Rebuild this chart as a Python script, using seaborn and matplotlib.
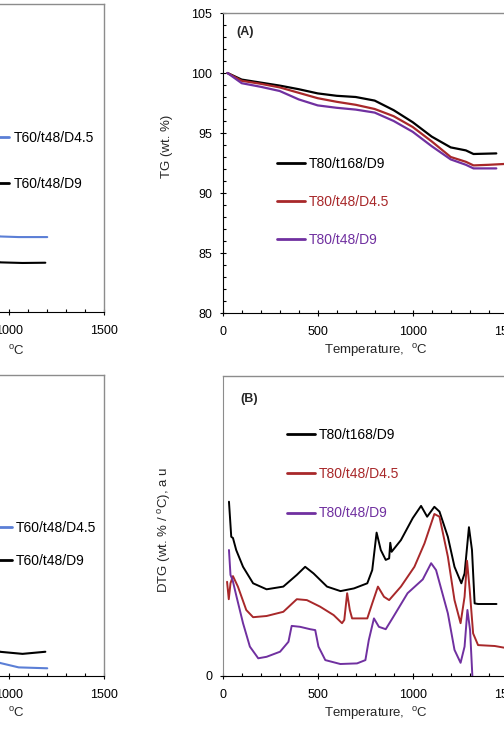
import matplotlib
matplotlib.use("Agg")
import matplotlib.pyplot as plt
from matplotlib.ticker import MultipleLocator, NullLocator
import pandas as pd
import seaborn as sns

# ---------------- panel (A): TG, wt. % ----------------
tg_labels = ["T80/t168/D9", "T80/t48/D4.5", "T80/t48/D9"]
tg_temp_1 = [25, 100, 200, 300, 400, 500, 600, 700, 800, 900, 1000, 1100, 1200, 1280, 1320, 1440]
tg_val_1 = [100.0, 99.45, 99.2, 98.95, 98.65, 98.3, 98.1, 98.0, 97.7, 96.9, 95.9, 94.7, 93.8, 93.55, 93.25, 93.3]
tg_temp_2 = [25, 100, 200, 300, 400, 500, 600, 700, 800, 900, 1000, 1100, 1200, 1280, 1320, 1400, 1520]
tg_val_2 = [100.0, 99.35, 99.1, 98.8, 98.35, 97.9, 97.6, 97.35, 97.0, 96.4, 95.5, 94.3, 93.0, 92.6, 92.3, 92.35, 92.45]
tg_temp_3 = [25, 100, 200, 300, 400, 500, 600, 700, 800, 900, 1000, 1100, 1200, 1280, 1320, 1440]
tg_val_3 = [100.0, 99.15, 98.85, 98.5, 97.8, 97.3, 97.1, 96.95, 96.7, 96.0, 95.1, 93.9, 92.8, 92.35, 92.05, 92.05]

# ---------------- panel (B): DTG, arbitrary units ----------------
dtg_temp_1 = [33, 45, 54, 71, 107, 160, 231, 319, 390, 434, 478, 549, 620, 691, 761, 787, 810, 832,
              858, 876, 882, 889, 938, 1000, 1044, 1076, 1114, 1141, 1185, 1220, 1256, 1273, 1296,
              1312, 1326, 1344, 1441]
dtg_val_1 = [5.81, 4.64, 4.6, 4.2, 3.64, 3.09, 2.89, 2.98, 3.37, 3.64, 3.42, 2.98, 2.83, 2.92, 3.09,
             3.53, 4.78, 4.2, 3.87, 3.92, 4.44, 4.14, 4.53, 5.26, 5.67, 5.31, 5.64, 5.48, 4.64, 3.64,
             3.09, 3.42, 4.96, 4.2, 2.42, 2.4, 2.4]
dtg_temp_2 = [23, 32, 41, 54, 80, 124, 160, 231, 319, 390, 443, 513, 584, 628, 640, 655, 669, 681,
              761, 787, 817, 849, 876, 938, 1009, 1062, 1114, 1141, 1185, 1220, 1252, 1273, 1286,
              1300, 1318, 1344, 1432, 1520]
dtg_val_2 = [3.14, 2.56, 3.09, 3.33, 2.98, 2.2, 1.96, 2.0, 2.14, 2.56, 2.53, 2.31, 2.03, 1.76, 1.87,
             2.76, 2.2, 1.92, 1.92, 2.42, 2.98, 2.64, 2.53, 2.98, 3.64, 4.42, 5.4, 5.31, 3.98, 2.53,
             1.76, 2.64, 3.84, 2.87, 1.42, 1.03, 1.0, 0.9]
dtg_temp_3 = [33, 41, 52, 73, 107, 143, 187, 231, 302, 346, 363, 407, 460, 487, 504, 540, 619, 707,
              751, 769, 796, 822, 858, 893, 973, 1053, 1097, 1123, 1185, 1220, 1252, 1273, 1288,
              1302, 1314, 1320]
dtg_val_3 = [4.2, 3.37, 3.2, 2.64, 1.76, 0.98, 0.59, 0.64, 0.81, 1.14, 1.67, 1.64, 1.56, 1.53, 0.98,
             0.53, 0.4, 0.42, 0.53, 1.2, 1.92, 1.64, 1.56, 1.92, 2.76, 3.22, 3.76, 3.53, 2.09, 0.87,
             0.44, 0.98, 2.2, 1.53, 0.0, -0.4]

# ---------------- left panels (T60 series, mostly cropped) ----------------
left_labels = ["T60/t48/D4.5", "T60/t48/D9"]
tl_temp = [25, 200, 400, 600, 800, 950, 1050, 1200]
tl_blue = [100.0, 97.5, 94.2, 91.0, 88.3, 86.15, 86.1, 86.1]
tl_temp_k = [25, 200, 400, 600, 800, 950, 1070, 1190]
tl_black = [100.0, 96.8, 92.8, 89.4, 86.5, 84.05, 84.0, 84.02]
bl_temp = [25, 200, 400, 600, 800, 950, 1050, 1200]
bl_blue = [2.5, 1.2, 1.5, 1.0, 1.4, 0.42, 0.27, 0.24]
bl_temp_k = [25, 200, 400, 600, 800, 950, 1070, 1190]
bl_black = [3.0, 1.6, 1.9, 1.4, 1.8, 0.79, 0.72, 0.79]

BLACK = "#000000"
RED = "#A8282A"
PURPLE = "#7030A0"
BLUE = "#5B7FD6"
GRAY = "#8C8C8C"

sns.set_style("ticks")
plt.rcParams["font.family"] = ["Liberation Sans", "DejaVu Sans"]
plt.rcParams["mathtext.fontset"] = "custom"
plt.rcParams["mathtext.rm"] = "Liberation Sans"

W, H = 504, 730
fig = plt.figure(figsize=(W / 100, H / 100), dpi=100)


def px_axes(left, top, right, bottom):
    return fig.add_axes([left / W, 1 - bottom / H, (right - left) / W, (bottom - top) / H])


def draw(ax, series, lw):
    for temp, vals, col, lab in series:
        df = pd.DataFrame({"T": temp, "v": vals})
        sns.lineplot(data=df, x="T", y="v", color=col, lw=lw, label=lab, ax=ax, sort=False)


def style(ax, ylim, ymajor, yminor, left_black=True):
    ax.set_xlim(0, 1500)
    ax.set_ylim(*ylim)
    ax.xaxis.set_major_locator(MultipleLocator(500))
    ax.xaxis.set_minor_locator(MultipleLocator(100))
    if ymajor:
        ax.yaxis.set_major_locator(MultipleLocator(ymajor))
    else:
        ax.set_yticks([0])
    if yminor:
        ax.yaxis.set_minor_locator(MultipleLocator(yminor))
    else:
        ax.yaxis.set_minor_locator(NullLocator())
    ax.tick_params(which="major", direction="inout", length=5, width=0.8, colors="black",
                   labelsize=9, pad=7)
    ax.tick_params(axis="y", which="major", pad=5)
    ax.tick_params(which="minor", direction="in", length=2.5, width=0.8, colors="black")
    for s in ["top", "right"]:
        ax.spines[s].set_color(GRAY)
        ax.spines[s].set_linewidth(1.0)
    ax.spines["bottom"].set_color("black")
    ax.spines["left"].set_color("black" if left_black else GRAY)
    ax.set_xlabel(r"Temperature,  $^{\mathrm{o}}$C", fontsize=9.5)
    ax.xaxis.set_label_coords(0.538, -0.098)


def legend(ax, x, y, spacing, colored):
    lg = ax.legend(loc="upper left", bbox_to_anchor=(x, y), frameon=False, fontsize=10,
                   handlelength=2.0, handletextpad=0.3, labelspacing=spacing,
                   borderpad=0, borderaxespad=0,
                   labelcolor="linecolor" if colored else "black")
    for h in lg.get_lines():
        h.set_linewidth(2.0)


# top-left (cropped)
ax_tl = px_axes(-181, 4, 104.3, 312.3)
draw(ax_tl, [(tl_temp, tl_blue, BLUE, left_labels[0]), (tl_temp_k, tl_black, BLACK, left_labels[1])], 1.5)
style(ax_tl, (80, 105), 5, 1)
ax_tl.yaxis.set_minor_locator(NullLocator())
ax_tl.set_ylabel("")
legend(ax_tl, 0.57, 0.587, 2.28, False)

# bottom-left (cropped)
ax_bl = px_axes(-181, 375, 104.3, 675.5)
draw(ax_bl, [(bl_temp, bl_blue, BLUE, left_labels[0]), (bl_temp_k, bl_black, BLACK, left_labels[1])], 1.5)
style(ax_bl, (0, 10), None, None)
ax_bl.set_ylabel("")
legend(ax_bl, 0.578, 0.515, 1.38, False)

# (A) TG
ax_a = px_axes(222.7, 13, 507.7, 313)
draw(ax_a, [(tg_temp_1, tg_val_1, BLACK, tg_labels[0]), (tg_temp_2, tg_val_2, RED, tg_labels[1]),
            (tg_temp_3, tg_val_3, PURPLE, tg_labels[2])], 1.6)
style(ax_a, (80, 105), 5, 1)
ax_a.set_ylabel("TG (wt. %)", fontsize=9.5)
ax_a.yaxis.set_label_coords(-0.175, 0.557)
ax_a.text(0.047, 0.937, "(A)", transform=ax_a.transAxes, fontsize=9, fontweight="bold",
          ha="left", va="center")
legend(ax_a, 0.19, 0.52, 1.73, True)

# (B) DTG
ax_b = px_axes(222.7, 376, 507.7, 676)
draw(ax_b, [(dtg_temp_1, dtg_val_1, BLACK, tg_labels[0]), (dtg_temp_2, dtg_val_2, RED, tg_labels[1]),
            (dtg_temp_3, dtg_val_3, PURPLE, tg_labels[2])], 1.4)
style(ax_b, (0, 10), None, None, left_black=False)
ax_b.set_ylabel(r"DTG (wt. % / $^{\mathrm{o}}$C), a u", fontsize=9.5)
ax_b.yaxis.set_label_coords(-0.175, 0.487)
ax_b.text(0.061, 0.923, "(B)", transform=ax_b.transAxes, fontsize=9, fontweight="bold",
          ha="left", va="center")
legend(ax_b, 0.225, 0.828, 1.83, True)

fig.savefig("out.png", dpi=100)
